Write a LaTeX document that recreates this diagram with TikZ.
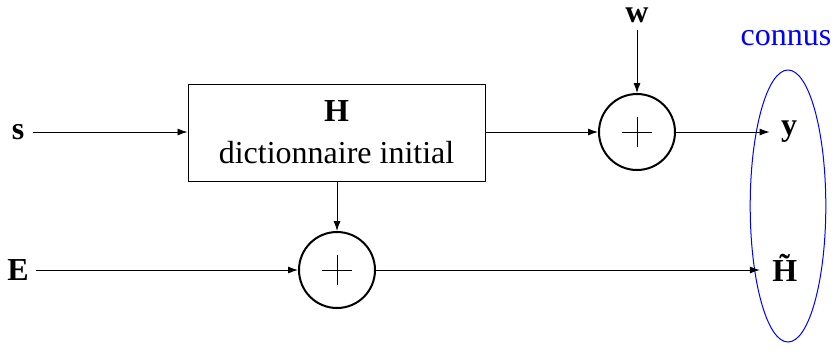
\documentclass[tikz,border=0pt]{standalone}
\usepackage{fontspec}
\setmainfont{Liberation Serif}
\usetikzlibrary{arrows.meta,shapes.geometric}
\begin{document}
\begin{tikzpicture}[x=0.5pt,y=-0.5pt,
  every node/.style={font=\fontsize{16}{21}\selectfont},
  lbl/.style={inner sep=0pt},
  blk/.style={draw,line width=0.5pt,minimum width=148.5pt,minimum height=48.5pt,align=center,inner sep=0pt},
  sumnode/.style={draw,circle,line width=1pt,minimum size=38pt,inner sep=0pt,
    path picture={\draw[line width=0.4pt] ([xshift=-7.5pt]path picture bounding box.center) -- ([xshift=7.5pt]path picture bounding box.center);
                  \draw[line width=0.4pt] ([yshift=-7.5pt]path picture bounding box.center) -- ([yshift=7.5pt]path picture bounding box.center);}},
  arr/.style={-{Latex[length=5pt,width=3.5pt]},line width=0.45pt}]
\useasboundingbox (0,0) rectangle (840,350);
\node[lbl] (s) at (18,132) {\textbf{s}};
\node[lbl] (E) at (18,270) {\textbf{E}};
\node[lbl] (w) at (637,15) {\textbf{w}};
\node[lbl] (y) at (789,132) {\textbf{y}};
\node[lbl] (Ht) at (790,268) {\textbf{\~{H}}};
\node[blk] (H) at (336.5,132.5) {\textbf{H}\\dictionnaire initial};
\node[sumnode] (sum1) at (637,132) {};
\node[sumnode] (sum2) at (337,270) {};
\node[draw=blue,ellipse,line width=0.5pt,minimum width=37.8pt,minimum height=136pt,inner sep=0pt] (ell) at (788,206) {};
\node[text=blue,lbl] (connus) at (786,38) {connus};
\draw[arr,shorten <=4pt] (s.center -| s.east) -- (s.center -| H.west);
\draw[arr,shorten <=3.5pt] (E.center -| E.east) -- (sum2.west);
\draw[arr,shorten <=3.5pt] (w.south) -- (sum1.north);
\draw[arr] (H.east |- sum1.west) -- (sum1.west);
\draw[arr] (H.south -| sum2.north) -- (sum2.north);
\draw[arr,shorten >=5.5pt] (sum1.east) -- (sum1.east -| y.west);
\draw[arr,shorten >=6pt] (sum2.east) -- (sum2.east -| Ht.west);
\end{tikzpicture}
\end{document}
